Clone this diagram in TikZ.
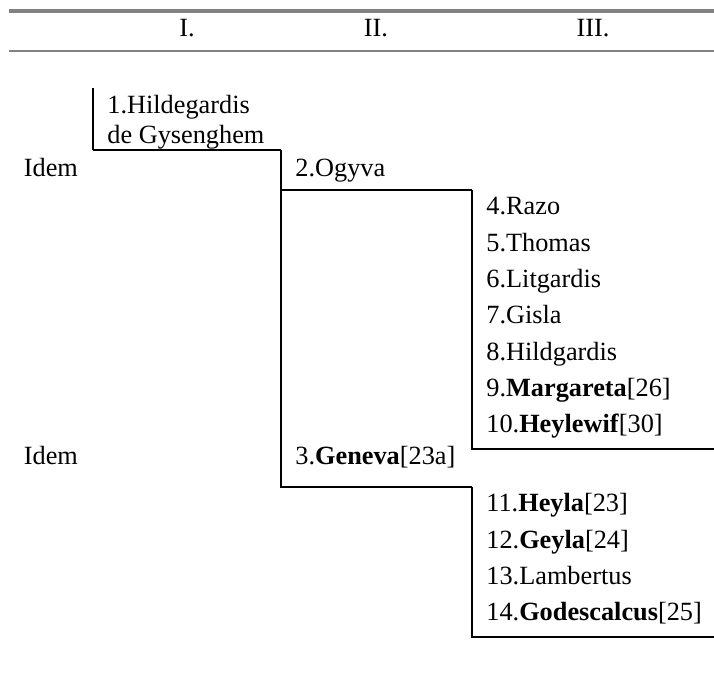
\documentclass[tikz,border=0pt]{standalone}
\usepackage{fontspec}
\setmainfont{Liberation Serif}
\definecolor{rulegray}{HTML}{828282}
\usetikzlibrary{positioning}

\begin{document}
\begin{tikzpicture}[x=0.5pt, y=-0.5pt,
    entry/.style={anchor=base west, inner sep=0pt, font=\fontsize{13.15}{15}\selectfont},
    colhead/.style={anchor=base, inner sep=0pt, font=\fontsize{13.15}{15}\selectfont},
    bracket/.style={draw=black, line width=1pt},
    thinbracket/.style={draw=black, line width=0.65pt},
    headrule/.style={draw=rulegray}]
        \useasboundingbox (0,0) rectangle (714,673);
        % Header
        \draw[headrule, line width=1.75pt] (9,11) -- (714,11);
        \draw[headrule, line width=1.15pt] (9,51) -- (714,51);
        \node[colhead] (hI) at (187,37) {I.};
        \node[colhead] (hII) at (376,37) {II.};
        \node[colhead] (hIII) at (593,37) {III.};
        % Generation I
        \node[entry] (hild) at (107,114) {1.Hildegardis};
        \node[entry] (gysen) at (107,144) {de Gysenghem};
        \coordinate (hildtop) at (93,88);
        \coordinate (hildcorner) at (93,150);
        \coordinate (splitI) at (281,150);
        \draw[bracket] (hildtop) -- (hildcorner);
        \draw[thinbracket] (hildcorner) -- (splitI);
        % Generation II
        \node[entry] (idemA) at (23.5,177) {Idem};
        \node[entry] (ogyva) at (295,177) {2.Ogyva};
        \node[entry] (idemB) at (23.5,465) {Idem};
        \node[entry] (geneva) at (295,465) {3.\textbf{Geneva}[23a]};
        \coordinate (ogyvaleft) at (281,190);
        \coordinate (ogyvacorner) at (472,190);
        \coordinate (genevaleft) at (281,487);
        \coordinate (genevacorner) at (472,487);
        \draw[bracket] (splitI) -- (genevaleft) -- (genevacorner);
        \draw[bracket] (ogyvaleft) -- (ogyvacorner);
        % Generation III, children of Ogyva
        \node[entry] (razo) at (486,215) {4.Razo};
        \node[entry] (thomas) at (486,251.3) {5.Thomas};
        \node[entry] (litg) at (486,287.6) {6.Litgardis};
        \node[entry] (gisla) at (486,323.9) {7.Gisla};
        \node[entry] (hildg) at (486,360.2) {8.Hildgardis};
        \node[entry] (marg) at (486,396.5) {9.\textbf{Margareta}[26]};
        \node[entry] (heylew) at (486,432.8) {10.\textbf{Heylewif}[30]};
        \coordinate (ogyvaend) at (472,449);
        \coordinate (ogyvaright) at (714,449);
        \draw[bracket] (ogyvacorner) -- (ogyvaend) -- (ogyvaright);
        % Generation III, children of Geneva
        \node[entry] (heyla) at (486,512) {11.\textbf{Heyla}[23]};
        \node[entry] (geyla) at (486,548.3) {12.\textbf{Geyla}[24]};
        \node[entry] (lamb) at (486,584.6) {13.Lambertus};
        \node[entry] (godes) at (486,620.9) {14.\textbf{Godescalcus}[25]};
        \coordinate (genevaend) at (472,637);
        \coordinate (genevaright) at (714,637);
        \draw[bracket] (genevacorner) -- (genevaend) -- (genevaright);
\end{tikzpicture}
\end{document}
